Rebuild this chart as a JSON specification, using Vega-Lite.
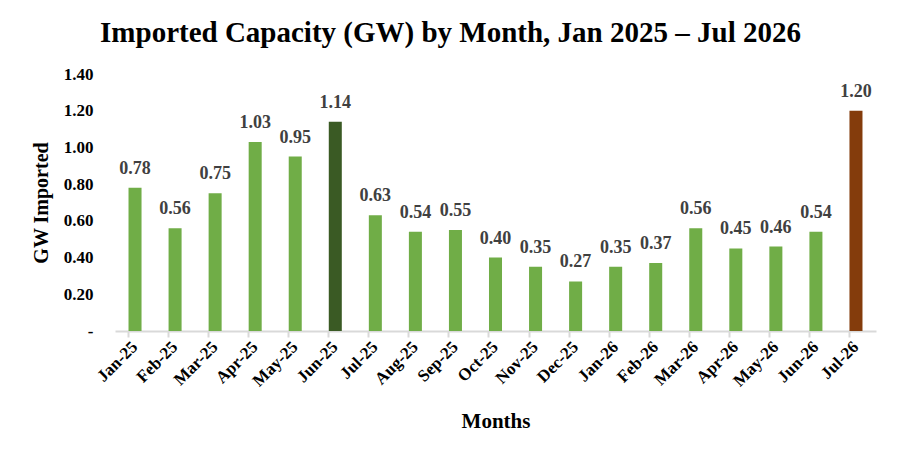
{
  "$schema": "https://vega.github.io/schema/vega-lite/v6.json",
  "description": "Imported capacity (GW) by month, Jan 2025 - Jul 2026",
  "autosize": "none",
  "padding": {"left": 115, "top": 74, "right": 24, "bottom": 125},
  "width": 761,
  "height": 257,
  "background": "white",
  "title": {
    "text": "Imported Capacity (GW) by Month, Jan 2025 – Jul 2026",
    "anchor": "middle",
    "dx": -45,
    "offset": 17,
    "font": "Liberation Serif",
    "fontSize": 29,
    "fontWeight": "bold",
    "color": "#000000"
  },
  "data": {
    "values": [
      {"month": "Jan-25", "gw": 0.78, "group": "normal"},
      {"month": "Feb-25", "gw": 0.56, "group": "normal"},
      {"month": "Mar-25", "gw": 0.75, "group": "normal"},
      {"month": "Apr-25", "gw": 1.03, "group": "normal"},
      {"month": "May-25", "gw": 0.95, "group": "normal"},
      {"month": "Jun-25", "gw": 1.14, "group": "peak 2025"},
      {"month": "Jul-25", "gw": 0.63, "group": "normal"},
      {"month": "Aug-25", "gw": 0.54, "group": "normal"},
      {"month": "Sep-25", "gw": 0.55, "group": "normal"},
      {"month": "Oct-25", "gw": 0.40, "group": "normal"},
      {"month": "Nov-25", "gw": 0.35, "group": "normal"},
      {"month": "Dec-25", "gw": 0.27, "group": "normal"},
      {"month": "Jan-26", "gw": 0.35, "group": "normal"},
      {"month": "Feb-26", "gw": 0.37, "group": "normal"},
      {"month": "Mar-26", "gw": 0.56, "group": "normal"},
      {"month": "Apr-26", "gw": 0.45, "group": "normal"},
      {"month": "May-26", "gw": 0.46, "group": "normal"},
      {"month": "Jun-26", "gw": 0.54, "group": "normal"},
      {"month": "Jul-26", "gw": 1.20, "group": "peak 2026"}
    ]
  },
  "encoding": {
    "x": {
      "field": "month",
      "type": "ordinal",
      "sort": null,
      "scale": {"paddingInner": 0.675, "paddingOuter": 0.3375},
      "axis": {
        "title": "Months",
        "titleFontSize": 21,
        "titlePadding": 21,
        "labelAngle": -45,
        "labelAlign": "right",
        "labelBaseline": "middle",
        "labelFontSize": 17,
        "labelPadding": 7,
        "bandPosition": 0,
        "domainColor": "#d9d9d9",
        "domainWidth": 2,
        "tickColor": "#d9d9d9",
        "tickWidth": 2,
        "tickSize": 6
      }
    },
    "y": {
      "field": "gw",
      "type": "quantitative",
      "scale": {"domain": [0, 1.4]},
      "axis": {
        "title": "GW Imported",
        "titleFontSize": 20,
        "titlePadding": 12,
        "values": [0, 0.2, 0.4, 0.6, 0.8, 1.0, 1.2, 1.4],
        "labelExpr": "datum.value == 0 ? '-' : format(datum.value, '.2f')",
        "labelFontSize": 17,
        "labelPadding": 22,
        "domain": false,
        "ticks": false,
        "grid": false
      }
    }
  },
  "layer": [
    {
      "mark": {"type": "bar"},
      "encoding": {
        "color": {
          "field": "group",
          "type": "nominal",
          "scale": {
            "domain": ["normal", "peak 2025", "peak 2026"],
            "range": ["#70ad47", "#3a5a24", "#843c0c"]
          },
          "legend": null
        }
      }
    },
    {
      "mark": {
        "type": "text",
        "dy": -19,
        "font": "Liberation Serif",
        "fontSize": 18,
        "fontWeight": "bold",
        "color": "#404040"
      },
      "encoding": {
        "text": {"field": "gw", "type": "quantitative", "format": ".2f"}
      }
    }
  ],
  "config": {
    "font": "Liberation Serif",
    "view": {"stroke": null},
    "axis": {
      "labelFont": "Liberation Serif",
      "labelFontWeight": "bold",
      "labelColor": "#000000",
      "titleFont": "Liberation Serif",
      "titleFontWeight": "bold",
      "titleColor": "#000000"
    }
  }
}
